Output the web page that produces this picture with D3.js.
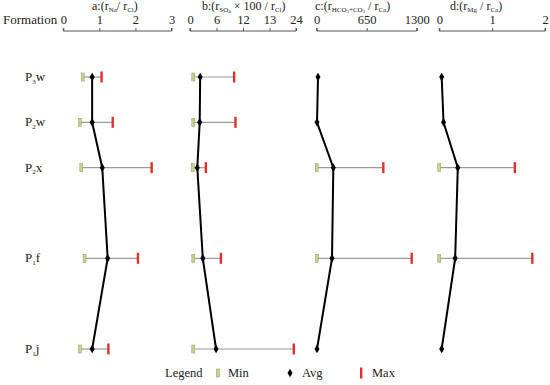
<!DOCTYPE html>
<html>
<head>
<meta charset="utf-8">
<script src="https://cdn.jsdelivr.net/npm/d3@7"></script>
<style>
  body { margin: 0; background: #fff; }
</style>
</head>
<body>
<script>
// formations, top to bottom
var formations = ['P3w', 'P2w', 'P2x', 'P1f', 'P1j'];
var formSub = ['3', '2', '2', '1', '1'];
var formTail = ['w', 'w', 'x', 'f', 'j'];
// relative row steps (gaps between rows are not even in the figure)
var rowSteps = [0, 1, 2, 4, 6];

// panel a: rNa / rCl
var aMin = [0.54, 0.46, 0.50, 0.59, 0.46];
var aAvg = [0.80, 0.80, 1.08, 1.23, 0.80];
var aMax = [1.06, 1.37, 2.45, 2.07, 1.25];
// panel b: rSO4 x 100 / rCl
var bMin = [0.75, 0.75, 0.6, 0.75, 0.75];
var bAvg = [2.3, 2.2, 1.65, 2.9, 5.9];
var bMax = [10.0, 10.3, 3.6, 7.0, 23.5];
// panel c: rHCO3+CO3 / rCa  (no range for some formations)
var cMin = [null, null, 0, 4, null];
var cAvg = [17, 4, 216, 199, 4];
var cMax = [null, null, 866, 1235, null];
// panel d: rMg / rCa
var dMin = [null, null, 0.0, 0.0, null];
var dAvg = [0.045, 0.08, 0.35, 0.30, 0.045];
var dMax = [null, null, 1.43, 1.76, null];

var aTicks = [0, 1, 2, 3], aTickLabels = ['0', '1', '2', '3'];
var bTicks = [0, 6, 12, 18, 24], bTickLabels = ['0', '6', '12', '13', '24'];
var cTicks = [0, 650, 1300], cTickLabels = ['0', '650', '1300'];
var dTicks = [0, 1, 2], dTickLabels = ['0', '1', '2'];

var width = 550, height = 385;
var serif = "'Liberation Serif', 'Times New Roman', serif";
var ink = '#222';
var svg = d3.select('body').append('svg')
  .attr('width', width)
  .attr('height', height);

function label(sel, size) {
  return sel.style('font-family', serif).style('font-size', size + 'px').attr('fill', ink);
}

var y = d3.scaleLinear().domain([0, 6]).range([77, 349]);

var panels = [
  { key: 'a', min: aMin, avg: aAvg, max: aMax, ticks: aTicks, labels: aTickLabels, dom: [0, 3], range: [63.3, 171.5], tx: 92,
    title: [['a:(r', 0], ['Na', 1], ['/ r', 0], ['Cl', 1], [')', 0]] },
  { key: 'b', min: bMin, avg: bAvg, max: bMax, ticks: bTicks, labels: bTickLabels, dom: [0, 24], range: [190, 296], tx: 202,
    title: [['b:(r', 0], ['SO', 1], ['4', 2], [' \u00d7 100 / r', 0], ['Cl', 1], [')', 0]] },
  { key: 'c', min: cMin, avg: cAvg, max: cMax, ticks: cTicks, labels: cTickLabels, dom: [0, 1300], range: [316.7, 416.7], tx: 315,
    title: [['c:(r', 0], ['HCO', 1], ['3', 2], ['+CO', 1], ['3', 2], [' / r', 0], ['Ca', 1], [')', 0]] },
  { key: 'd', min: dMin, avg: dAvg, max: dMax, ticks: dTicks, labels: dTickLabels, dom: [0, 2], range: [439.3, 545], tx: 450,
    title: [['d:(r', 0], ['Mg', 1], [' / r', 0], ['Ca', 1], [')', 0]] }
];

// header
label(svg.append('text'), 13)
  .attr('x', 3).attr('y', 24)
  .text('Formation');

panels.forEach(function (p) {
  var x = d3.scaleLinear().domain(p.dom).range(p.range);

  // title with subscripts
  var t = label(svg.append('text'), 12)
    .attr('x', p.tx).attr('y', 10);
  var lvl = 0;
  p.title.forEach(function (s) {
    var target = s[1] === 0 ? 0 : (s[1] === 1 ? 1.5 : 3);
    var ts = t.append('tspan').text(s[0]).attr('dy', target - lvl);
    lvl = target;
    if (s[1] === 1) ts.style('font-size', '7px');
    if (s[1] === 2) ts.style('font-size', '5px');
  });

  // axis on top
  var axis = d3.axisTop(x)
    .tickValues(p.ticks)
    .tickFormat(function (d, i) { return p.labels[i]; })
    .tickSize(3)
    .tickPadding(4);
  var g = svg.append('g')
    .attr('transform', 'translate(0,31)')
    .call(axis);
  g.select('.domain').attr('stroke', '#555').attr('d', 'M' + p.range[0] + ',-3V0H' + p.range[1] + 'V-3');
  g.selectAll('.tick line').attr('stroke', '#555');
  label(g.selectAll('.tick text'), 12.5);

  // ranges
  formations.forEach(function (f, i) {
    var yy = y(rowSteps[i]);
    if (p.min[i] != null && p.max[i] != null) {
      svg.append('line')
        .attr('x1', x(p.min[i])).attr('x2', x(p.max[i]))
        .attr('y1', yy).attr('y2', yy)
        .attr('stroke', '#9a9a9a').attr('stroke-width', 1.2);
    }
  });

  // avg polyline
  var line = d3.line()
    .x(function (d) { return x(d); })
    .y(function (d, i) { return y(rowSteps[i]); });
  svg.append('path')
    .datum(p.avg)
    .attr('d', line)
    .attr('fill', 'none')
    .attr('stroke', '#000')
    .attr('stroke-width', 2);

  formations.forEach(function (f, i) {
    var yy = y(rowSteps[i]);
    if (p.min[i] != null) {
      svg.append('rect')
        .attr('x', x(p.min[i]) - 1.5).attr('y', yy - 4)
        .attr('width', 3).attr('height', 8)
        .attr('fill', '#c9d38e').attr('stroke', '#8a9a5a').attr('stroke-width', 0.5);
    }
    if (p.max[i] != null) {
      svg.append('rect')
        .attr('x', x(p.max[i]) - 1.2).attr('y', yy - 5.5)
        .attr('width', 2.4).attr('height', 11)
        .attr('fill', '#e0302a');
    }
  });

  svg.selectAll('.avg-' + p.key)
    .data(p.avg)
    .enter()
    .append('path')
    .attr('class', 'avg-' + p.key)
    .attr('d', d3.symbol().type(d3.symbolDiamond).size(22))
    .attr('transform', function (d, i) { return 'translate(' + x(d) + ',' + y(rowSteps[i]) + ')'; })
    .attr('fill', '#000');
});

// row labels
formations.forEach(function (f, i) {
  var t = label(svg.append('text'), 13)
    .attr('x', 25).attr('y', y(rowSteps[i]) + 4);
  t.append('tspan').text('P');
  t.append('tspan').text(formSub[i]).style('font-size', '7px').attr('dy', 2.5);
  t.append('tspan').text(formTail[i]).attr('dy', -2.5);
});

// legend
var ly = 373;
label(svg.append('text'), 12.5).attr('x', 165).attr('y', ly + 4).text('Legend');
svg.append('rect').attr('x', 216.5).attr('y', ly - 4).attr('width', 3).attr('height', 8)
  .attr('fill', '#c9d38e').attr('stroke', '#8a9a5a').attr('stroke-width', 0.5);
label(svg.append('text'), 12.5).attr('x', 228).attr('y', ly + 4).text('Min');
svg.append('path')
  .attr('d', d3.symbol().type(d3.symbolDiamond).size(22))
  .attr('transform', 'translate(290,' + ly + ')')
  .attr('fill', '#000');
label(svg.append('text'), 12.5).attr('x', 302).attr('y', ly + 4).text('Avg');
svg.append('rect').attr('x', 360).attr('y', ly - 5.5).attr('width', 2.4).attr('height', 11)
  .attr('fill', '#e0302a');
label(svg.append('text'), 12.5).attr('x', 372).attr('y', ly + 4).text('Max');
</script>
</body>
</html>
